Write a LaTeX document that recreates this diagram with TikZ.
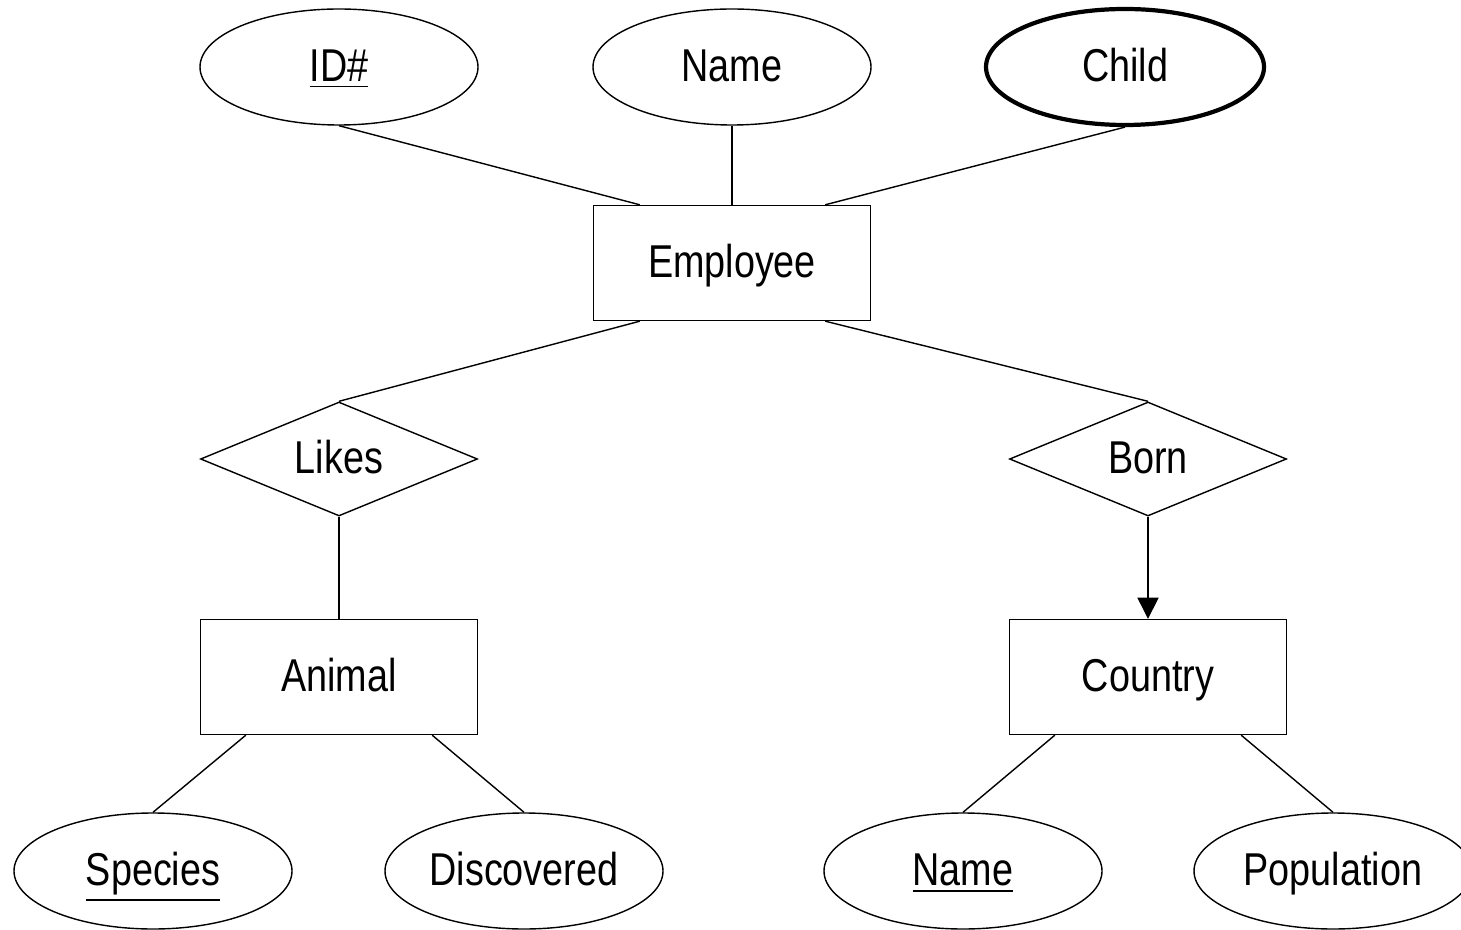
\documentclass[tikz,border=0pt]{standalone}
\usepackage{fontspec}
\setmainfont{Liberation Sans}[FakeStretch=0.82]
\usetikzlibrary{positioning,shapes.geometric,arrows.meta}

\tikzset{
  label text/.style={text height=0.85em,text depth=0.02em},
  entity/.style={rectangle,draw,line width=0.4pt,minimum width=2.77cm,minimum height=1.15cm,inner sep=0pt,label text},
  attr/.style={ellipse,draw,line width=0.4pt,minimum width=2.78cm,minimum height=1.16cm,inner sep=0pt,label text},
  multiattr/.style={attr,line width=1.2pt},
  relation/.style={diamond,draw,line width=0.4pt,aspect=2.43,minimum width=2.77cm,minimum height=1.14cm,inner sep=0pt,label text},
  link/.style={line width=0.4pt}
}

\begin{document}
\begin{tikzpicture}[font=\fontsize{13.1}{15}\selectfont]

    \useasboundingbox (0,0) rectangle (14.61,-9.30);

    \node(employee) [entity] at (7.32,-2.63) {Employee};

    \node(idattr) [attr] at (3.39,-0.67) {\underline{ID\#}};
    \node(nameattr) [attr] at (7.32,-0.67) {Name};
    \node(childattr) [multiattr] at (11.25,-0.67) {Child};

    \node(likes) [relation] at (3.39,-4.59) {Likes};
    \node(born) [relation] at (11.48,-4.59) {Born};

    \node(animal) [entity] at (3.39,-6.77) {Animal};
    \node(country) [entity] at (11.48,-6.77) {Country};

    \node(species) [attr] at (1.53,-8.71) {\underline{Species}};
    \node(discovered) [attr] at (5.24,-8.71) {Discovered};
    \node(cname) [attr] at (9.63,-8.71) {\underline{Name}};
    \node(population) [attr] at (13.33,-8.71) {Population};

    % attributes of the employee
    \draw[link] (idattr.south) to ([xshift=0.47cm]employee.north west);
    \draw[link] (nameattr.south) to (employee.north);
    \draw[link] (childattr.south) to ([xshift=-0.46cm]employee.north east);

    % relationships
    \draw[link] ([xshift=0.47cm]employee.south west) to (likes.north);
    \draw[link] ([xshift=-0.46cm]employee.south east) to (born.north);
    \draw[link] (likes.south) to (animal.north);
    \draw[link,-{Triangle[width=6pt,length=6pt]}] (born.south) to (country.north);

    % attributes of animal and country
    \draw[link] ([xshift=0.46cm]animal.south west) to (species.north);
    \draw[link] ([xshift=-0.46cm]animal.south east) to (discovered.north);
    \draw[link] ([xshift=0.46cm]country.south west) to (cname.north);
    \draw[link] ([xshift=-0.46cm]country.south east) to (population.north);

\end{tikzpicture}
\end{document}
